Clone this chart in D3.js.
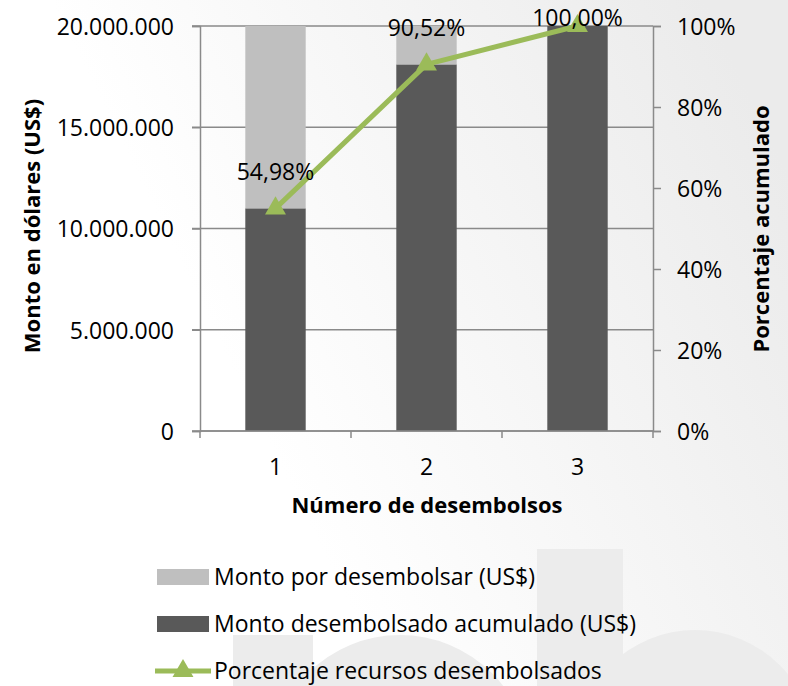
<!DOCTYPE html>
<html><head><meta charset="utf-8">
<script src="https://cdn.jsdelivr.net/npm/d3@7"></script>
<style>html,body{margin:0;padding:0;background:#fff}svg{display:block;font-family:"Open Sans",sans-serif}</style>
</head><body>
<svg id="c" width="788" height="686"></svg>
<script>
const categories = ["1", "2", "3"];
const montoAcumulado = [10996000, 18104000, 20000000];
const montoPorDesembolsar = [9004000, 1896000, 0];
const porcentaje = [0.5498, 0.9052, 1.0];
const leftTicks = [0, 5000000, 10000000, 15000000, 20000000];
const rightTicks = [0, 0.2, 0.4, 0.6, 0.8, 1.0];
const seriesNames = ["Monto por desembolsar (US$)", "Monto desembolsado acumulado (US$)", "Porcentaje recursos desembolsados"];

const svg = d3.select("#c");
const W = 788, H = 686;
const L = 200, R = 653, T = 26, B = 431;
const cLight = "#BFBFBF", cDark = "#595959", cGreen = "#9BBB59", cAxis = "#8a8a8a";
const loc = d3.formatLocale({decimal: ",", thousands: ".", grouping: [3], currency: ["$", ""]});
const fmtL = loc.format(",.0f"), fmtR = loc.format(".0%"), fmtP = loc.format(".2%");

// background
const defs = svg.append("defs");
const g0 = defs.append("linearGradient").attr("id", "bg").attr("x1", "0.3").attr("y1", "0.55").attr("x2", "1").attr("y2", "0.25");
g0.append("stop").attr("offset", "0").attr("stop-color", "#ffffff");
g0.append("stop").attr("offset", "1").attr("stop-color", "#ebebeb");
svg.append("rect").attr("width", W).attr("height", H).attr("fill", "url(#bg)");
const wm = svg.append("g").attr("fill", "#ececec");
wm.append("rect").attr("x", 233).attr("y", 635).attr("width", 80).attr("height", 60);
wm.append("circle").attr("cx", 400).attr("cy", 765).attr("r", 130);
wm.append("rect").attr("x", 537).attr("y", 549).attr("width", 86).attr("height", 140);
wm.append("circle").attr("cx", 695).attr("cy", 750).attr("r", 120);

const x = d3.scaleBand().domain(categories).range([L, R]).paddingInner(0.6).paddingOuter(0.3);
const yL = d3.scaleLinear().domain([0, 20000000]).range([B, T]);
const yR = d3.scaleLinear().domain([0, 1]).range([B, T]);

// gridlines
svg.append("g").selectAll("line").data(leftTicks).join("line")
  .attr("x1", L - 8).attr("x2", R).attr("y1", d => yL(d)).attr("y2", d => yL(d))
  .attr("stroke", cAxis).attr("stroke-width", 1.5);

// bars
const stack = categories.map((c, i) => ({c, a: montoAcumulado[i], p: montoPorDesembolsar[i]}));
svg.append("g").selectAll("rect").data(stack).join("rect")
  .attr("x", d => x(d.c)).attr("width", x.bandwidth())
  .attr("y", d => yL(d.a)).attr("height", d => yL(0) - yL(d.a)).attr("fill", cDark);
svg.append("g").selectAll("rect").data(stack).join("rect")
  .attr("x", d => x(d.c)).attr("width", x.bandwidth())
  .attr("y", d => yL(d.a + d.p)).attr("height", d => yL(d.a) - yL(d.a + d.p)).attr("fill", cLight);

// axes
const axL = svg.append("g").attr("transform", `translate(${L},0)`)
  .call(d3.axisLeft(yL).tickValues(leftTicks).tickFormat(fmtL).tickSize(8).tickPadding(18));
const axR = svg.append("g").attr("transform", `translate(${R},0)`)
  .call(d3.axisRight(yR).tickValues(rightTicks).tickFormat(fmtR).tickSize(8).tickPadding(16));
[axL, axR].forEach(a => {
  a.select(".domain").attr("stroke", cAxis).attr("stroke-width", 1.5);
  a.selectAll(".tick line").attr("stroke", cAxis).attr("stroke-width", 1.5);
  a.selectAll("text").attr("font-size", 23).attr("fill", "#000").attr("font-family", "Open Sans");
});
axL.selectAll("text").attr("dy", "0.36em");
axR.selectAll("text").attr("dy", "0.36em");
// x axis
const xg = svg.append("g");
xg.append("line").attr("x1", L).attr("x2", R).attr("y1", B).attr("y2", B).attr("stroke", cAxis).attr("stroke-width", 1.5);
const bounds = [L].concat(categories.map(c => x(c) + x.bandwidth() / 2 + x.step() / 2));
xg.selectAll("line.t").data(bounds).join("line").attr("class", "t")
  .attr("x1", d => d).attr("x2", d => d).attr("y1", B).attr("y2", B + 7).attr("stroke", cAxis).attr("stroke-width", 1.5);
xg.selectAll("text").data(categories).join("text")
  .attr("x", d => x(d) + x.bandwidth() / 2).attr("y", 475).attr("text-anchor", "middle")
  .attr("font-size", 23).text(d => d);

// titles
svg.append("text").attr("x", 427).attr("y", 513).attr("text-anchor", "middle")
  .attr("font-size", 22).attr("font-weight", "bold").text("Número de desembolsos");
svg.append("text").attr("transform", "translate(40,226) rotate(-90)").attr("text-anchor", "middle")
  .attr("font-size", 22).attr("font-weight", "bold").text("Monto en dólares (US$)");
svg.append("text").attr("transform", "translate(769,229) rotate(-90)").attr("text-anchor", "middle")
  .attr("font-size", 22).attr("font-weight", "bold").text("Porcentaje acumulado");

// line
const pts = categories.map((c, i) => ({c, v: porcentaje[i], px: x(c) + x.bandwidth() / 2, py: yR(porcentaje[i])}));
svg.append("path").datum(pts).attr("fill", "none").attr("stroke", cGreen).attr("stroke-width", 5)
  .attr("stroke-linejoin", "round")
  .attr("d", d3.line().x(d => d.px).y(d => d.py));
const tri = d3.symbol().type(d3.symbolTriangle).size(190);
svg.append("g").selectAll("path").data(pts).join("path")
  .attr("transform", d => `translate(${d.px},${d.py})`).attr("d", tri).attr("fill", cGreen);
svg.append("g").selectAll("text").data(pts).join("text")
  .attr("x", d => d.px).attr("y", d => Math.max(d.py - 28, T)).attr("text-anchor", "middle")
  .attr("font-size", 23).text(d => fmtP(d.v));

// legend
const lg = svg.append("g");
const rows = [0, 1, 2].map(i => ({name: seriesNames[i], y: 577 + i * 47, i}));
lg.selectAll("rect").data(rows.slice(0, 2)).join("rect")
  .attr("x", 157).attr("y", d => d.y - 8).attr("width", 52).attr("height", 16)
  .attr("fill", d => d.i === 0 ? cLight : cDark);
lg.append("line").attr("x1", 155).attr("x2", 211).attr("y1", rows[2].y).attr("y2", rows[2].y)
  .attr("stroke", cGreen).attr("stroke-width", 5);
lg.append("path").attr("transform", `translate(183,${rows[2].y})`).attr("d", tri).attr("fill", cGreen);
lg.selectAll("text").data(rows).join("text")
  .attr("x", 214).attr("y", d => d.y).attr("dy", "0.33em").attr("font-size", 23).text(d => d.name);
</script>
</body></html>
